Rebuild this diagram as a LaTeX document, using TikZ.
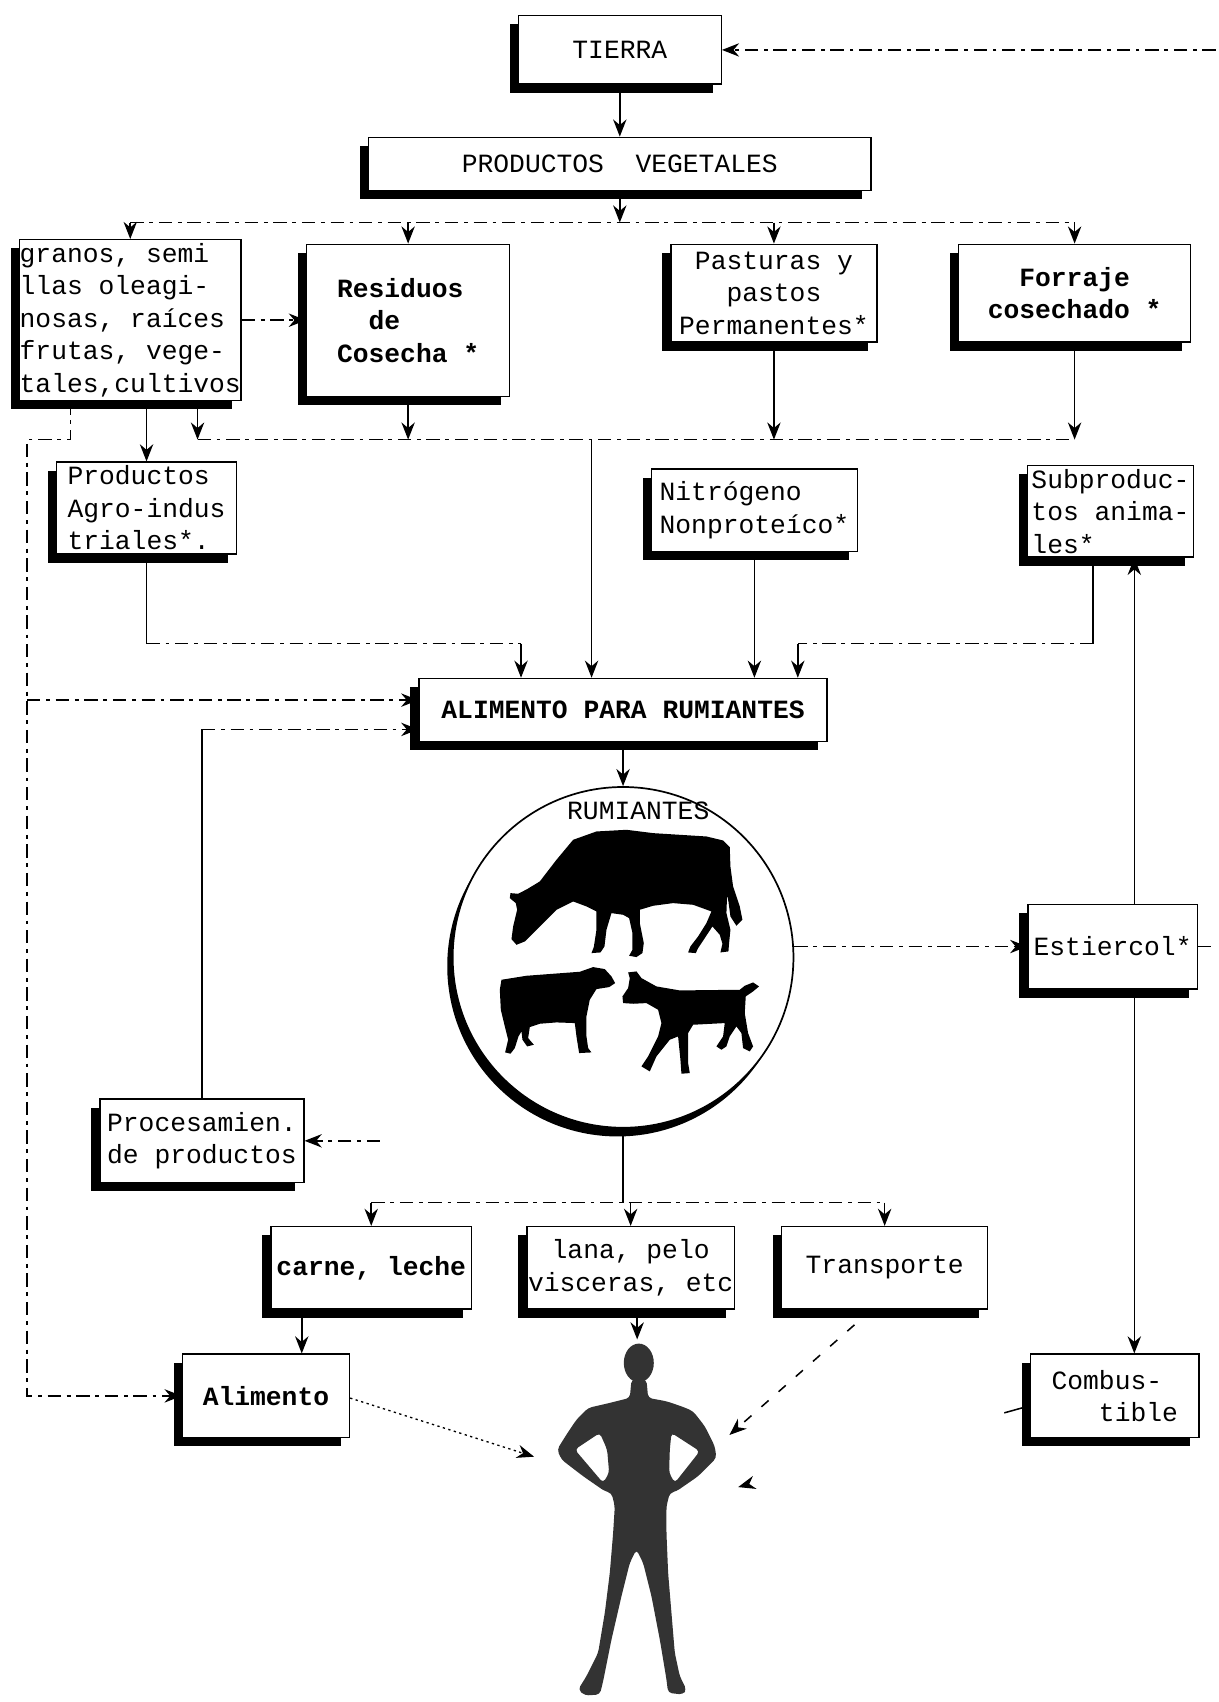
\documentclass[tikz,border=0pt]{standalone}
\usepackage{fontspec}
\setmonofont{Liberation Mono}
\usetikzlibrary{arrows.meta,calc,shadows}
\newcommand{\maquina}{\ttfamily\fontsize{13.8pt}{17pt}\selectfont}
\tikzset{
  caja/.style={draw=black, line width=0.7pt, fill=white, rectangle, inner sep=2pt,
    align=left, font=\maquina,
    drop shadow={shadow xshift=-0.16cm, shadow yshift=-0.16cm, fill=black, opacity=1}},
  flujo/.style={black, line width=0.8pt},
  flujod/.style={black, line width=0.8pt, dash pattern=on 7pt off 3pt on 2pt off 3pt},
  flujop/.style={black, line width=0.7pt, dash pattern=on 1.2pt off 1.8pt},
}
\begin{document}
\begin{tikzpicture}[x=0.02cm, y=-0.02cm, >={Stealth[length=9pt,width=7pt]}]
    \useasboundingbox (0,0) rectangle (1123,1568);
    % cajas
    \node[caja, align=center, minimum width=3.74cm, minimum height=1.26cm] (tierra) at (571,46) {TIERRA};
    \node[caja, minimum width=9.26cm, minimum height=0.98cm] (pv) at (571,151) {PRODUCTOS\ \ VEGETALES};
    \node[caja, inner xsep=0pt, minimum width=4.08cm, minimum height=2.8cm] (granos) at (120,295)
        {granos, semi\\llas oleagi-\\nosas, raíces\\frutas, vege-\\tales,cultivos};
    \node[caja, font=\maquina\bfseries, minimum width=3.74cm, minimum height=2.8cm] (residuos) at (376,295)
        {Residuos\\\phantom{Re}de\\Cosecha *};
    \node[caja, align=center, minimum width=3.8cm, minimum height=1.8cm] (pasturas) at (713,270)
        {Pasturas y\\pastos\\Permanentes*};
    \node[caja, align=center, font=\maquina\bfseries, minimum width=4.28cm, minimum height=1.8cm] (forraje) at (990,270)
        {Forraje\\cosechado *};
    \node[caja, minimum width=3.32cm, minimum height=1.52cm] (agro) at (135,468)
        {Productos\\Agro-indus\\triales*.};
    \node[caja, minimum width=3.8cm, minimum height=1.52cm] (nitro) at (695,470)
        {Nitrógeno\\Nonproteíco*};
    \node[caja, inner xsep=1pt, minimum width=3.06cm, minimum height=1.56cm] (subpro) at (1023,471)
        {Subproduc-\\tos anima-\\les*};
    \node[caja, font=\maquina\bfseries, minimum width=7.52cm, minimum height=1.16cm] (alimrum) at (574,654)
        {ALIMENTO PARA RUMIANTES};
    \node[caja, minimum width=3.12cm, minimum height=1.56cm] (estiercol) at (1025,872) {Estiercol*};
    \node[caja, minimum width=3.76cm, minimum height=1.54cm] (proc) at (186,1051)
        {Procesamien.\\de productos};
    \node[caja, font=\maquina\bfseries, minimum width=3.7cm, minimum height=1.52cm] (carne) at (342,1168) {carne, leche};
    \node[caja, align=center, inner xsep=0.5pt, minimum width=3.76cm, minimum height=1.52cm] (lana) at (581,1168)
        {lana, pelo\\visceras, etc};
    \node[caja, minimum width=3.8cm, minimum height=1.52cm] (transp) at (815,1168) {Transporte};
    \node[caja, font=\maquina\bfseries, minimum width=3.08cm, minimum height=1.54cm] (alimento) at (245,1286) {Alimento};
    \node[caja, minimum width=3.1cm, minimum height=1.54cm] (combus) at (1027,1286)
        {Combus-\\\phantom{Com}tible};
    % rumiantes
    \node[circle, draw=black, line width=0.9pt, fill=white, inner sep=0pt, minimum size=6.28cm,
        drop shadow={shadow xshift=-0.1cm, shadow yshift=-0.16cm, fill=black, opacity=1}] (rum) at (574,882) {};
    \node[font=\maquina] (rumlbl) at (588,747) {RUMIANTES};
    \begin{scope}[shift={(405.2,709.2)}, scale=0.307]
        % vaca
        \fill[black] (262,358) -- (300,335) -- (350,270) -- (400,210) -- (470,185) -- (560,180) -- (640,190)
            -- (720,195) -- (800,200) -- (850,212) -- (870,232) -- (872,290) -- (880,350) -- (900,410)
            -- (908,450) -- (890,468) -- (872,440) -- (866,395) -- (862,375) -- (860,430) -- (872,480)
            -- (868,520) -- (866,545) -- (842,548) -- (848,522) -- (840,495) -- (818,470) -- (795,505)
            -- (775,535) -- (768,550) -- (745,548) -- (752,530) -- (775,500) -- (800,460) -- (815,425)
            -- (760,405) -- (700,400) -- (640,408) -- (600,420) -- (600,460) -- (612,520) -- (608,550)
            -- (590,562) -- (568,558) -- (578,540) -- (578,490) -- (568,445) -- (550,435) -- (515,430)
            -- (500,480) -- (494,530) -- (482,548) -- (455,550) -- (462,532) -- (470,480) -- (470,425)
            -- (440,410) -- (400,395) -- (350,420) -- (300,470) -- (255,515) -- (230,525) -- (215,508)
            -- (220,470) -- (232,420) -- (228,400) -- (210,385) -- (212,370) -- (235,372) -- cycle;
        % oveja
        \fill[black] (185,630) -- (260,618) -- (340,612) -- (420,606) -- (460,592) -- (495,598) -- (515,620)
            -- (526,640) -- (508,652) -- (470,658) -- (450,690) -- (440,740) -- (440,800) -- (445,835)
            -- (455,848) -- (418,850) -- (410,800) -- (405,760) -- (350,758) -- (300,762) -- (270,772)
            -- (265,805) -- (282,825) -- (262,830) -- (248,810) -- (245,785) -- (236,800) -- (225,835)
            -- (212,852) -- (196,848) -- (205,810) -- (195,770) -- (183,720) -- (180,660) -- cycle;
        % cabra
        \fill[black] (590,605) -- (605,625) -- (650,650) -- (720,662) -- (900,660) -- (915,648) -- (940,638)
            -- (958,650) -- (940,665) -- (918,680) -- (915,730) -- (925,790) -- (940,830) -- (930,845)
            -- (910,835) -- (905,790) -- (890,770) -- (870,800) -- (860,830) -- (845,840) -- (830,830)
            -- (850,800) -- (855,760) -- (760,765) -- (745,790) -- (745,880) -- (750,910) -- (725,912)
            -- (722,870) -- (715,800) -- (690,810) -- (650,860) -- (630,905) -- (605,890) -- (625,860)
            -- (655,800) -- (665,760) -- (655,720) -- (620,700) -- (580,702) -- (550,700) -- (548,680)
            -- (565,655) -- (570,625) -- (565,608) -- cycle;
    \end{scope}
    % hombre
    \begin{scope}[shift={(478.9,1215.7)}, scale=0.307]
        \fill[black!80] (357,130) ellipse (45 and 58);
        \fill[black!80, even odd rule, rounded corners=2pt] (335,180) -- (330,235) -- (270,250) -- (205,265)
            -- (170,300) -- (140,345) -- (112,390) -- (125,420) -- (190,470) -- (255,515) -- (275,520)
            -- (285,560) -- (280,640) -- (270,760) -- (255,880) -- (235,1000) -- (200,1070) -- (175,1110)
            -- (195,1128) -- (240,1125) -- (250,1085) -- (275,960) -- (305,830) -- (330,730) -- (350,690)
            -- (370,730) -- (395,830) -- (420,960) -- (440,1080) -- (445,1120) -- (490,1125) -- (500,1110)
            -- (480,1070) -- (465,1000) -- (455,880) -- (445,760) -- (440,640) -- (440,560) -- (450,520)
            -- (470,515) -- (535,470) -- (590,415) -- (585,380) -- (555,320) -- (520,275) -- (490,262)
            -- (440,245) -- (385,235) -- (380,180) -- cycle
            (240,340) -- (165,390) -- (250,490) -- (268,460) -- (262,390) -- cycle
            (455,340) -- (540,395) -- (465,490) -- (448,460) -- (450,390) -- cycle;
    \end{scope}
    % tierra y productos vegetales
    \coordinate (tin) at (1120,46);
    \draw[flujod,->] (tin) -- (tierra.east);
    \draw[flujo,->] (tierra) -- (pv);
    \coordinate (b1) at (0,205);
    \draw[flujo,->] (pv.south) -- (pv.south |- b1);
    \draw[flujod] (granos.north |- b1) -- (forraje.north |- b1);
    \foreach \n in {granos,residuos,pasturas,forraje}
        \draw[flujo,->] (\n.north |- b1) -- (\n.north);
    \draw[flujod,->] (granos) -- (residuos);
    % colector hacia el alimento
    \coordinate (b2) at (0,405);
    \coordinate (g2) at ($(granos.south)+(62,0)$);
    \draw[flujo,->] (g2) -- (g2 |- b2);
    \foreach \n in {residuos,pasturas,forraje}
        \draw[flujo,->] (\n.south) -- (\n.south |- b2);
    \draw[flujod] (g2 |- b2) -- (forraje.south |- b2);
    \coordinate (a0) at ($(alimrum.north)+(-29,0)$);
    \draw[flujo,->] (a0 |- b2) -- (a0);
    \draw[flujo,->] (granos.south -| agro.north) -- (agro.north);
    % linea izquierda
    \coordinate (g1) at ($(granos.south)+(-55,0)$);
    \coordinate (izq) at (25,405);
    \coordinate (a1) at ($(alimrum.west)+(0,-9)$);
    \draw[flujod,->] (g1) |- (izq) |- (alimento.west);
    \draw[flujod,->] (izq |- a1) -- (a1);
    % subproductos hacia el alimento
    \coordinate (b3) at (0,593);
    \coordinate (a2) at ($(alimrum.north)+(-94,0)$);
    \draw[flujo] (agro.south) -- (agro.south |- b3);
    \draw[flujod] (agro.south |- b3) -- (a2 |- b3);
    \draw[flujo,->] (a2 |- b3) -- (a2);
    \draw[flujo,->] (nitro.south) -- (nitro.south |- alimrum.north);
    \coordinate (s1) at ($(subpro.south)+(-16,0)$);
    \coordinate (a3) at ($(alimrum.north)+(161,0)$);
    \draw[flujo] (s1) -- (s1 |- b3);
    \draw[flujod] (s1 |- b3) -- (a3 |- b3);
    \draw[flujo,->] (a3 |- b3) -- (a3);
    \coordinate (a4) at ($(alimrum.west)+(0,18)$);
    \draw[flujo] (proc.north) -- (proc.north |- a4);
    \draw[flujod,->] (proc.north |- a4) -- (a4);
    % rumiantes
    \draw[flujo,->] (alimrum) -- (rum);
    \draw[flujod,->] (rum.east |- estiercol.west) -- (estiercol.west);
    \draw[flujo,->] ($(estiercol.north)+(20,0)$) -- ($(subpro.south)+(22,0)$);
    \draw[flujo,->] ($(estiercol.south)+(20,0)$) -- ($(combus.north)+(18,0)$);
    \coordinate (eout) at (1120,872);
    \draw[flujod] (estiercol.east) -- (eout);
    \coordinate (b4) at (0,1108);
    \draw[flujo] (rum.south) -- (rum.south |- b4);
    \draw[flujod] (carne.north |- b4) -- (transp.north |- b4);
    \foreach \n in {carne,lana,transp}
        \draw[flujo,->] (\n.north |- b4) -- (\n.north);
    \coordinate (pin) at (350,1051);
    \draw[flujod,->] (pin) -- (proc.east);
    % productos hacia el hombre
    \coordinate (c1) at ($(alimento.north)+(33,0)$);
    \draw[flujo,->] (c1 |- carne.south) -- (c1);
    \coordinate (cabeza) at (587,1234);
    \draw[flujo,->] (cabeza |- lana.south) -- (cabeza);
    \coordinate (h1) at (672,1322);
    \coordinate (h2) at (492,1342);
    \coordinate (h3) at (680,1370);
    \draw[flujo, dash pattern=on 5pt off 7pt,->] ($(transp.south)+(-12,0)$) -- (h1);
    \draw[flujop,->] ($(alimento.east)+(0,2)$) -- (h2);
    \draw[flujo, dash pattern=on 14pt off 400pt,->] ($(combus.west)+(0,9)$) -- (h3);
\end{tikzpicture}
\end{document}
